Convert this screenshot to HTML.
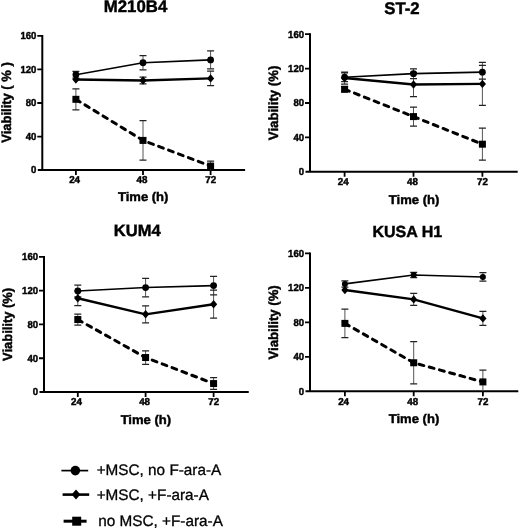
<!DOCTYPE html>
<html><head><meta charset="utf-8"><style>
html,body{margin:0;padding:0;background:#fff;width:520px;height:529px;overflow:hidden}
svg{display:block;filter:blur(0.3px)}
text{font-family:"Liberation Sans", Arial, sans-serif;fill:#000;text-rendering:geometricPrecision}
text[font-weight=bold]{stroke:#000;stroke-width:0.45px}
text.lg{stroke:#000;stroke-width:0.3px}
</style></head><body>
<svg width="520" height="529" viewBox="0 0 520 529">
<text x="135.5" y="11.9" font-size="16.8" font-weight="bold" text-anchor="middle">M210B4</text>
<text transform="translate(10.9,102.5) rotate(-90)" font-size="13.4" font-weight="bold" text-anchor="middle" textLength="80.4" lengthAdjust="spacingAndGlyphs">Viability ( % )</text>
<path d="M42.3 35.00V171.00M37.8 170.1H245.1" stroke="#000" stroke-width="2.0" fill="none"/>
<path d="M37.3 136.55H42.3M37.3 103.00H42.3M37.3 69.45H42.3M37.3 35.90H42.3M75.9 170.1V175.1M143.0 170.1V175.1M210.6 170.1V175.1" stroke="#000" stroke-width="1.8" fill="none"/>
<text transform="translate(36.40,173.40) scale(0.94,1)" font-size="10.2" font-weight="bold" text-anchor="end">0</text>
<text transform="translate(36.40,139.85) scale(0.94,1)" font-size="10.2" font-weight="bold" text-anchor="end">40</text>
<text transform="translate(36.40,106.30) scale(0.94,1)" font-size="10.2" font-weight="bold" text-anchor="end">80</text>
<text transform="translate(36.40,72.75) scale(0.94,1)" font-size="10.2" font-weight="bold" text-anchor="end">120</text>
<text transform="translate(36.40,39.20) scale(0.94,1)" font-size="10.2" font-weight="bold" text-anchor="end">160</text>
<text transform="translate(74.60,183.45) scale(0.98,1)" font-size="10" font-weight="bold" text-anchor="middle">24</text>
<text transform="translate(142.00,183.45) scale(0.98,1)" font-size="10" font-weight="bold" text-anchor="middle">48</text>
<text transform="translate(210.70,183.45) scale(0.98,1)" font-size="10" font-weight="bold" text-anchor="middle">72</text>
<text x="143.2" y="200.80" font-size="12.6" font-weight="bold" text-anchor="middle" textLength="50.5" lengthAdjust="spacingAndGlyphs">Time (h)</text>
<path d="M75.9 88.83V109.79M143.0 120.70V160.12M210.6 161.04V170.10M143.0 77.17V83.88M210.6 71.13V85.72M75.9 71.38V78.09M143.0 55.69V69.79M210.6 50.83V68.95" stroke="#555" stroke-width="1.0" fill="none"/>
<path d="M72.40 88.83h7M72.40 109.79h7M139.50 120.70h7M139.50 160.12h7M207.10 161.04h7M139.50 77.17h7M139.50 83.88h7M207.10 71.13h7M207.10 85.72h7M72.40 71.38h7M72.40 78.09h7M139.50 55.69h7M139.50 69.79h7M207.10 50.83h7M207.10 68.95h7" stroke="#222" stroke-width="1.25" fill="none"/>
<polyline points="75.9,99.31 143.0,140.41 210.6,166.07" stroke="#000" stroke-width="3.0" stroke-dasharray="5 5.6" stroke-linecap="round" fill="none"/>
<polyline points="75.9,79.52 143.0,80.52 210.6,78.42" stroke="#000" stroke-width="2.4" fill="none"/>
<polyline points="75.9,74.73 143.0,62.74 210.6,59.89" stroke="#000" stroke-width="1.6" fill="none"/>
<rect x="72.4" y="95.81" width="7" height="7"/>
<rect x="139.5" y="136.91" width="7" height="7"/>
<rect x="207.1" y="162.57" width="7" height="7"/>
<path d="M75.9 75.31L79.50 79.52L75.9 83.72L72.30 79.52Z"/>
<path d="M143.0 76.32L146.60 80.52L143.0 84.72L139.40 80.52Z"/>
<path d="M210.6 74.22L214.20 78.42L210.6 82.62L207.00 78.42Z"/>
<circle cx="75.9" cy="74.73" r="3.4"/>
<circle cx="143.0" cy="62.74" r="3.4"/>
<circle cx="210.6" cy="59.89" r="3.4"/>
<text x="402" y="13.8" font-size="16.8" font-weight="bold" text-anchor="middle">ST-2</text>
<text transform="translate(277.8,102.9) rotate(-90)" font-size="13.4" font-weight="bold" text-anchor="middle" textLength="74.5" lengthAdjust="spacingAndGlyphs">Viability (%)</text>
<path d="M310 33.30V172.70M305.5 171.8H517.7" stroke="#000" stroke-width="2.0" fill="none"/>
<path d="M305 137.40H310M305 103.00H310M305 68.60H310M305 34.20H310M344.6 171.8V176.8M413.5 171.8V176.8M482.4 171.8V176.8" stroke="#000" stroke-width="1.8" fill="none"/>
<text transform="translate(304.10,175.10) scale(0.94,1)" font-size="10.2" font-weight="bold" text-anchor="end">0</text>
<text transform="translate(304.10,140.70) scale(0.94,1)" font-size="10.2" font-weight="bold" text-anchor="end">40</text>
<text transform="translate(304.10,106.30) scale(0.94,1)" font-size="10.2" font-weight="bold" text-anchor="end">80</text>
<text transform="translate(304.10,71.90) scale(0.94,1)" font-size="10.2" font-weight="bold" text-anchor="end">120</text>
<text transform="translate(304.10,37.50) scale(0.94,1)" font-size="10.2" font-weight="bold" text-anchor="end">160</text>
<text transform="translate(343.30,185.15) scale(0.98,1)" font-size="10" font-weight="bold" text-anchor="middle">24</text>
<text transform="translate(412.50,185.15) scale(0.98,1)" font-size="10" font-weight="bold" text-anchor="middle">48</text>
<text transform="translate(482.50,185.15) scale(0.98,1)" font-size="10" font-weight="bold" text-anchor="middle">72</text>
<text x="414.1" y="203.60" font-size="12.6" font-weight="bold" text-anchor="middle" textLength="50.5" lengthAdjust="spacingAndGlyphs">Time (h)</text>
<path d="M344.6 86.66V91.82M413.5 107.04V126.13M482.4 128.20V160.19M344.6 72.04V84.08M413.5 72.47V96.55M482.4 62.41V105.41M344.6 72.90V81.50M413.5 68.77V78.58M482.4 65.25V79.01" stroke="#555" stroke-width="1.0" fill="none"/>
<path d="M341.10 86.66h7M341.10 91.82h7M410.00 107.04h7M410.00 126.13h7M478.90 128.20h7M478.90 160.19h7M341.10 72.04h7M341.10 84.08h7M410.00 72.47h7M410.00 96.55h7M478.90 62.41h7M478.90 105.41h7M341.10 72.90h7M341.10 81.50h7M410.00 68.77h7M410.00 78.58h7M478.90 65.25h7M478.90 79.01h7" stroke="#222" stroke-width="1.25" fill="none"/>
<polyline points="344.6,89.24 413.5,116.59 482.4,144.19" stroke="#000" stroke-width="3.0" stroke-dasharray="5 5.6" stroke-linecap="round" fill="none"/>
<polyline points="344.6,78.06 413.5,84.51 482.4,83.91" stroke="#000" stroke-width="2.4" fill="none"/>
<polyline points="344.6,77.20 413.5,73.67 482.4,72.13" stroke="#000" stroke-width="1.6" fill="none"/>
<rect x="341.1" y="85.74" width="7" height="7"/>
<rect x="410.0" y="113.09" width="7" height="7"/>
<rect x="478.9" y="140.69" width="7" height="7"/>
<path d="M344.6 73.86L348.20 78.06L344.6 82.26L341.00 78.06Z"/>
<path d="M413.5 80.31L417.10 84.51L413.5 88.71L409.90 84.51Z"/>
<path d="M482.4 79.71L486.00 83.91L482.4 88.11L478.80 83.91Z"/>
<circle cx="344.6" cy="77.20" r="3.4"/>
<circle cx="413.5" cy="73.67" r="3.4"/>
<circle cx="482.4" cy="72.13" r="3.4"/>
<text x="137.2" y="235.8" font-size="16.5" font-weight="bold" text-anchor="middle">KUM4</text>
<text transform="translate(11.5,324.4) rotate(-90)" font-size="13.2" font-weight="bold" text-anchor="middle" textLength="73.0" lengthAdjust="spacingAndGlyphs">Viability (%)</text>
<path d="M44 256.00V392.90M39.5 392.0H248.75" stroke="#000" stroke-width="2.0" fill="none"/>
<path d="M39 358.23H44M39 324.45H44M39 290.67H44M39 256.90H44M77.8 392.0V397.0M145.6 392.0V397.0M213.6 392.0V397.0" stroke="#000" stroke-width="1.8" fill="none"/>
<text transform="translate(38.10,395.30) scale(0.94,1)" font-size="10.2" font-weight="bold" text-anchor="end">0</text>
<text transform="translate(38.10,361.53) scale(0.94,1)" font-size="10.2" font-weight="bold" text-anchor="end">40</text>
<text transform="translate(38.10,327.75) scale(0.94,1)" font-size="10.2" font-weight="bold" text-anchor="end">80</text>
<text transform="translate(38.10,293.97) scale(0.94,1)" font-size="10.2" font-weight="bold" text-anchor="end">120</text>
<text transform="translate(38.10,260.20) scale(0.94,1)" font-size="10.2" font-weight="bold" text-anchor="end">160</text>
<text transform="translate(76.50,405.35) scale(0.98,1)" font-size="10" font-weight="bold" text-anchor="middle">24</text>
<text transform="translate(144.60,405.35) scale(0.98,1)" font-size="10" font-weight="bold" text-anchor="middle">48</text>
<text transform="translate(213.70,405.35) scale(0.98,1)" font-size="10" font-weight="bold" text-anchor="middle">72</text>
<text x="145.9" y="423.60" font-size="12.6" font-weight="bold" text-anchor="middle" textLength="50.5" lengthAdjust="spacingAndGlyphs">Time (h)</text>
<path d="M77.8 314.06V325.04M145.6 350.79V364.30M213.6 377.65V389.47M77.8 290.93V305.62M145.6 305.87V322.76M213.6 290.17V318.20M77.8 285.10V296.92M145.6 278.26V296.84M213.6 276.32V294.90" stroke="#555" stroke-width="1.0" fill="none"/>
<path d="M74.30 314.06h7M74.30 325.04h7M142.10 350.79h7M142.10 364.30h7M210.10 377.65h7M210.10 389.47h7M74.30 290.93h7M74.30 305.62h7M142.10 305.87h7M142.10 322.76h7M210.10 290.17h7M210.10 318.20h7M74.30 285.10h7M74.30 296.92h7M142.10 278.26h7M142.10 296.84h7M210.10 276.32h7M210.10 294.90h7" stroke="#222" stroke-width="1.25" fill="none"/>
<polyline points="77.8,319.55 145.6,357.55 213.6,383.56" stroke="#000" stroke-width="3.0" stroke-dasharray="5 5.6" stroke-linecap="round" fill="none"/>
<polyline points="77.8,298.27 145.6,314.32 213.6,304.19" stroke="#000" stroke-width="2.4" fill="none"/>
<polyline points="77.8,291.01 145.6,287.55 213.6,285.61" stroke="#000" stroke-width="1.6" fill="none"/>
<rect x="74.3" y="316.05" width="7" height="7"/>
<rect x="142.1" y="354.05" width="7" height="7"/>
<rect x="210.1" y="380.06" width="7" height="7"/>
<path d="M77.8 294.07L81.40 298.27L77.8 302.47L74.20 298.27Z"/>
<path d="M145.6 310.12L149.20 314.32L145.6 318.52L142.00 314.32Z"/>
<path d="M213.6 299.99L217.20 304.19L213.6 308.38L210.00 304.19Z"/>
<circle cx="77.8" cy="291.01" r="3.4"/>
<circle cx="145.6" cy="287.55" r="3.4"/>
<circle cx="213.6" cy="285.61" r="3.4"/>
<text x="407.3" y="236.6" font-size="16.0" font-weight="bold" text-anchor="middle">KUSA H1</text>
<text transform="translate(278.0,322.4) rotate(-90)" font-size="13.4" font-weight="bold" text-anchor="middle" textLength="74.3" lengthAdjust="spacingAndGlyphs">Viability (%)</text>
<path d="M310 252.50V392.20M305.5 391.3H518.3" stroke="#000" stroke-width="2.0" fill="none"/>
<path d="M305 356.82H310M305 322.35H310M305 287.88H310M305 253.40H310M344.9 391.3V396.3M413.7 391.3V396.3M482.9 391.3V396.3" stroke="#000" stroke-width="1.8" fill="none"/>
<text transform="translate(304.10,394.60) scale(0.94,1)" font-size="10.2" font-weight="bold" text-anchor="end">0</text>
<text transform="translate(304.10,360.12) scale(0.94,1)" font-size="10.2" font-weight="bold" text-anchor="end">40</text>
<text transform="translate(304.10,325.65) scale(0.94,1)" font-size="10.2" font-weight="bold" text-anchor="end">80</text>
<text transform="translate(304.10,291.18) scale(0.94,1)" font-size="10.2" font-weight="bold" text-anchor="end">120</text>
<text transform="translate(304.10,256.70) scale(0.94,1)" font-size="10.2" font-weight="bold" text-anchor="end">160</text>
<text transform="translate(343.60,404.65) scale(0.98,1)" font-size="10" font-weight="bold" text-anchor="middle">24</text>
<text transform="translate(412.70,404.65) scale(0.98,1)" font-size="10" font-weight="bold" text-anchor="middle">48</text>
<text transform="translate(483.00,404.65) scale(0.98,1)" font-size="10" font-weight="bold" text-anchor="middle">72</text>
<text x="414.0" y="422.90" font-size="12.6" font-weight="bold" text-anchor="middle" textLength="50.5" lengthAdjust="spacingAndGlyphs">Time (h)</text>
<path d="M344.9 309.08V337.69M413.7 341.74V383.80M482.9 370.18V391.30M413.7 293.39V305.46M482.9 311.49V325.28M344.9 280.81V287.01M413.7 272.36V277.53M482.9 272.62V281.24" stroke="#555" stroke-width="1.0" fill="none"/>
<path d="M341.40 309.08h7M341.40 337.69h7M410.20 341.74h7M410.20 383.80h7M479.40 370.18h7M410.20 293.39h7M410.20 305.46h7M479.40 311.49h7M479.40 325.28h7M341.40 280.81h7M341.40 287.01h7M410.20 272.36h7M410.20 277.53h7M479.40 272.62h7M479.40 281.24h7" stroke="#222" stroke-width="1.25" fill="none"/>
<polyline points="344.9,323.38 413.7,362.77 482.9,381.91" stroke="#000" stroke-width="3.0" stroke-dasharray="5 5.6" stroke-linecap="round" fill="none"/>
<polyline points="344.9,289.94 413.7,299.42 482.9,318.39" stroke="#000" stroke-width="2.4" fill="none"/>
<polyline points="344.9,283.91 413.7,274.95 482.9,276.93" stroke="#000" stroke-width="1.6" fill="none"/>
<rect x="341.4" y="319.88" width="7" height="7"/>
<rect x="410.2" y="359.27" width="7" height="7"/>
<rect x="479.4" y="378.41" width="7" height="7"/>
<path d="M344.9 285.74L348.50 289.94L344.9 294.14L341.30 289.94Z"/>
<path d="M413.7 295.22L417.30 299.42L413.7 303.62L410.10 299.42Z"/>
<path d="M482.9 314.19L486.50 318.39L482.9 322.59L479.30 318.39Z"/>
<circle cx="344.9" cy="283.91" r="3.0"/>
<circle cx="413.7" cy="274.95" r="3.0"/>
<circle cx="482.9" cy="276.93" r="3.0"/>
<path d="M61.4 470.6H88.2" stroke="#000" stroke-width="1.7"/>
<circle cx="75.35" cy="470.6" r="4.8"/>
<path d="M62.6 494.6H89.2" stroke="#000" stroke-width="2.6"/>
<path d="M76 489.6L80.4 494.6L76 499.6L71.6 494.6Z"/>
<path d="M63.6 521.2H86.6" stroke="#000" stroke-width="3.0"/>
<rect x="72.2" y="516.7" width="9" height="9"/>
<text x="96.7" y="475.3" font-size="15.3" class="lg">+MSC, no F-ara-A</text>
<text x="96.7" y="500" font-size="15.3" class="lg">+MSC, +F-ara-A</text>
<text x="98.3" y="525.9" font-size="15.3" class="lg">no MSC, +F-ara-A</text>
</svg>
</body></html>
